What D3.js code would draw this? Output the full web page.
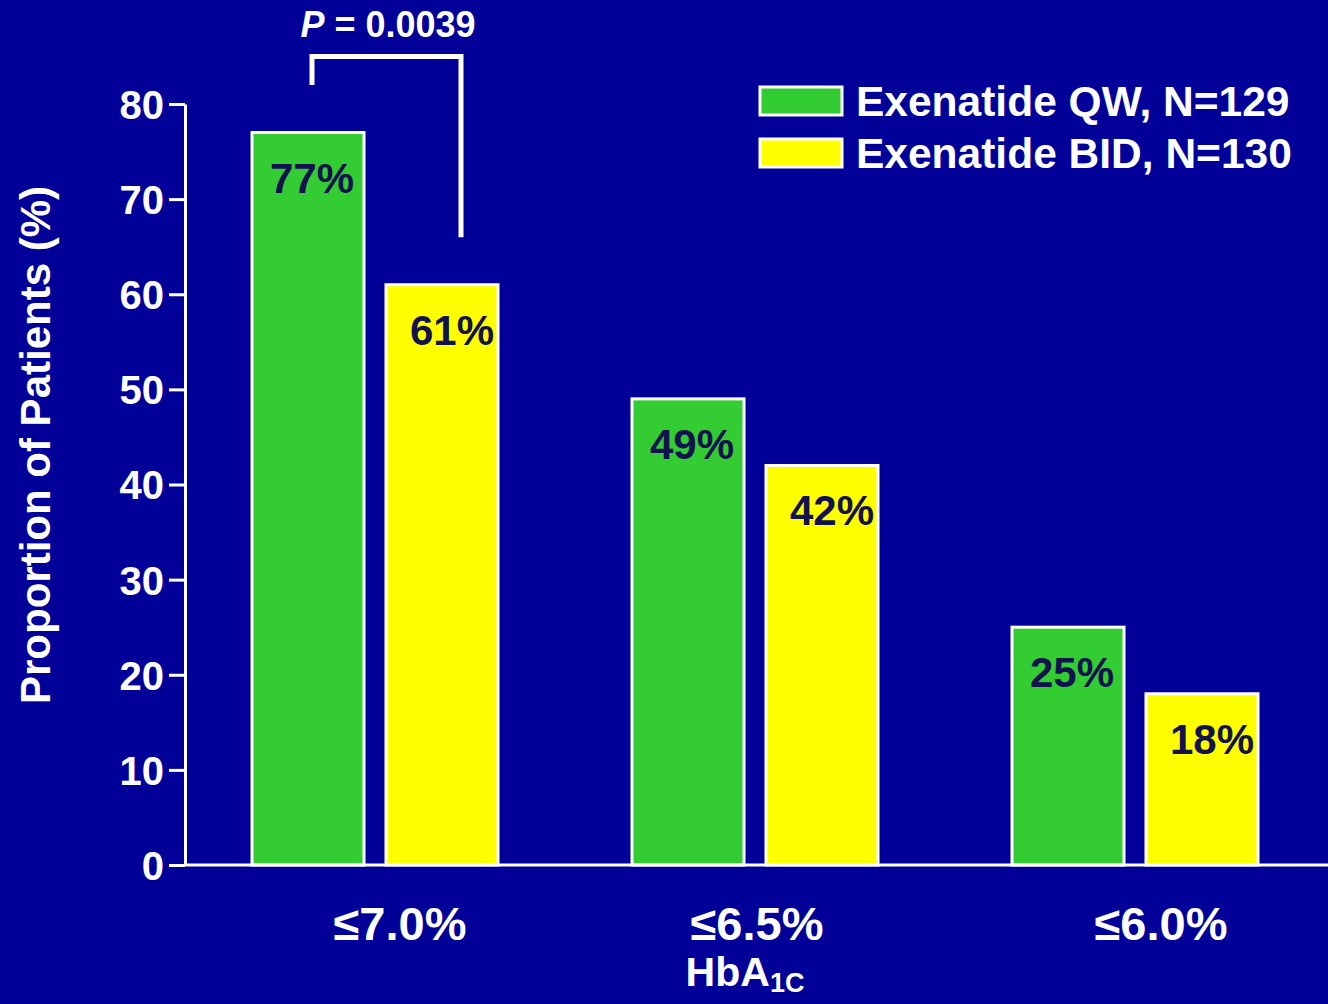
<!DOCTYPE html>
<html>
<head>
<meta charset="utf-8">
<script src="https://cdn.jsdelivr.net/npm/d3@7"></script>
<style>
  html, body { margin: 0; padding: 0; background: #000099; }
  svg { display: block; }
  text { font-family: Arial, "Liberation Sans", Helvetica, sans-serif; font-weight: bold; }
</style>
</head>
<body>
<svg id="chart" width="1328" height="1004"></svg>
<script>
// HbA1c target categories and response rates by treatment arm
const categories = ["≤7.0%", "≤6.5%", "≤6.0%"];
const seriesNames = ["Exenatide QW, N=129", "Exenatide BID, N=130"];
const qwValues = [77, 49, 25];
const bidValues = [61, 42, 18];
const yTicks = [0, 10, 20, 30, 40, 50, 60, 70, 80];
const pValueText = "0.0039";

const W = 1328, H = 1004;
const colors = ["#33CC33", "#FFFF00"];
const bg = "#000099";
const labelInk = "#12124f";

const svg = d3.select("#chart");
svg.append("rect").attr("width", W).attr("height", H).attr("fill", bg);

const plotLeft = 185, plotRight = 1325;
const y = d3.scaleLinear().domain([0, 80]).range([865, 104]);

const x = d3.scaleBand().domain(categories).range([plotLeft, plotRight]).padding(0);
const xs = d3.scaleBand().domain(seriesNames).range([-123, 123]).paddingInner(0.164).paddingOuter(0);

const rows = categories.map((c, i) => ({ cat: c, values: [qwValues[i], bidValues[i]] }));

// bars
const groups = svg.selectAll("g.grp").data(rows).join("g")
  .attr("class", "grp")
  .attr("transform", d => `translate(${x(d.cat) + x.bandwidth() / 2},0)`);

groups.selectAll("rect").data(d => d.values.map((v, j) => ({ v, s: seriesNames[j], j })))
  .join("rect")
  .attr("x", d => xs(d.s))
  .attr("width", xs.bandwidth())
  .attr("y", d => y(d.v))
  .attr("height", d => y(0) - y(d.v))
  .attr("fill", d => colors[d.j])
  .attr("stroke", "#ffffff")
  .attr("stroke-width", 3);

groups.selectAll("text.val").data(d => d.values.map((v, j) => ({ v, s: seriesNames[j], j })))
  .join("text")
  .attr("class", "val")
  .attr("x", d => xs(d.s) + xs.bandwidth() / 2 + (d.j === 0 ? 4 : 10))
  .attr("y", d => y(d.v) + 60)
  .attr("text-anchor", "middle")
  .attr("font-size", 42)
  .attr("fill", labelInk)
  .text(d => d.v + "%");

// x baseline
svg.append("line")
  .attr("x1", plotLeft).attr("x2", W)
  .attr("y1", y(0)).attr("y2", y(0))
  .attr("stroke", "#fff").attr("stroke-width", 3);

// y axis
const yAxis = svg.append("g")
  .attr("transform", `translate(${plotLeft},0)`)
  .call(d3.axisLeft(y).tickValues(yTicks).tickSize(16).tickSizeOuter(0).tickPadding(5));
yAxis.select(".domain").attr("stroke", "#fff").attr("stroke-width", 3);
yAxis.selectAll(".tick line").attr("stroke", "#fff").attr("stroke-width", 3);
yAxis.selectAll(".tick text")
  .attr("fill", "#fff")
  .attr("font-size", 40)
  .attr("font-family", "Arial, 'Liberation Sans', sans-serif")
  .attr("font-weight", "bold")
  .attr("dy", "0.36em");

// y axis title
svg.append("text")
  .attr("transform", `translate(50,445) rotate(-90)`)
  .attr("text-anchor", "middle")
  .attr("font-size", 42)
  .attr("fill", "#fff")
  .text("Proportion of Patients (%)");

// category labels
svg.selectAll("text.cat").data(categories).join("text")
  .attr("class", "cat")
  .attr("x", (d, i) => x(d) + x.bandwidth() / 2 + [25, 2, 26][i])
  .attr("y", 940)
  .attr("text-anchor", "middle")
  .attr("font-size", 47)
  .attr("fill", "#fff")
  .text(d => d);

// x axis title HbA1C
const xt = svg.append("text")
  .attr("x", 745).attr("y", 986)
  .attr("text-anchor", "middle")
  .attr("fill", "#fff")
  .attr("font-size", 41);
xt.append("tspan").text("HbA");
xt.append("tspan").attr("font-size", 27).attr("dy", 6).text("1C");

// significance bracket between first pair
const g0 = x(categories[0]) + x.bandwidth() / 2;
const bx1 = g0 + xs(seriesNames[0]) + xs.bandwidth() / 2 + 4;
const bx2 = g0 + xs(seriesNames[1]) + xs.bandwidth() / 2 + 19;
svg.append("path")
  .attr("d", `M${bx1},${y(82)} V${y(85)} H${bx2} V${y(66)}`)
  .attr("fill", "none")
  .attr("stroke", "#fff")
  .attr("stroke-width", 5);

const pt = svg.append("text")
  .attr("x", 388).attr("y", 37)
  .attr("text-anchor", "middle")
  .attr("font-size", 36)
  .attr("fill", "#fff");
pt.append("tspan").attr("font-style", "italic").text("P");
pt.append("tspan").text(" = " + pValueText);

// legend
const legend = svg.append("g").attr("transform", "translate(760,87)");
seriesNames.forEach((name, i) => {
  const row = legend.append("g").attr("transform", `translate(0,${i * 52})`);
  row.append("rect")
    .attr("width", 82).attr("height", 28)
    .attr("fill", colors[i])
    .attr("stroke", "#fff").attr("stroke-width", 3);
  row.append("text")
    .attr("x", 96).attr("y", 29)
    .attr("font-size", 42.5)
    .attr("fill", "#fff")
    .text(name);
});
</script>
</body>
</html>
